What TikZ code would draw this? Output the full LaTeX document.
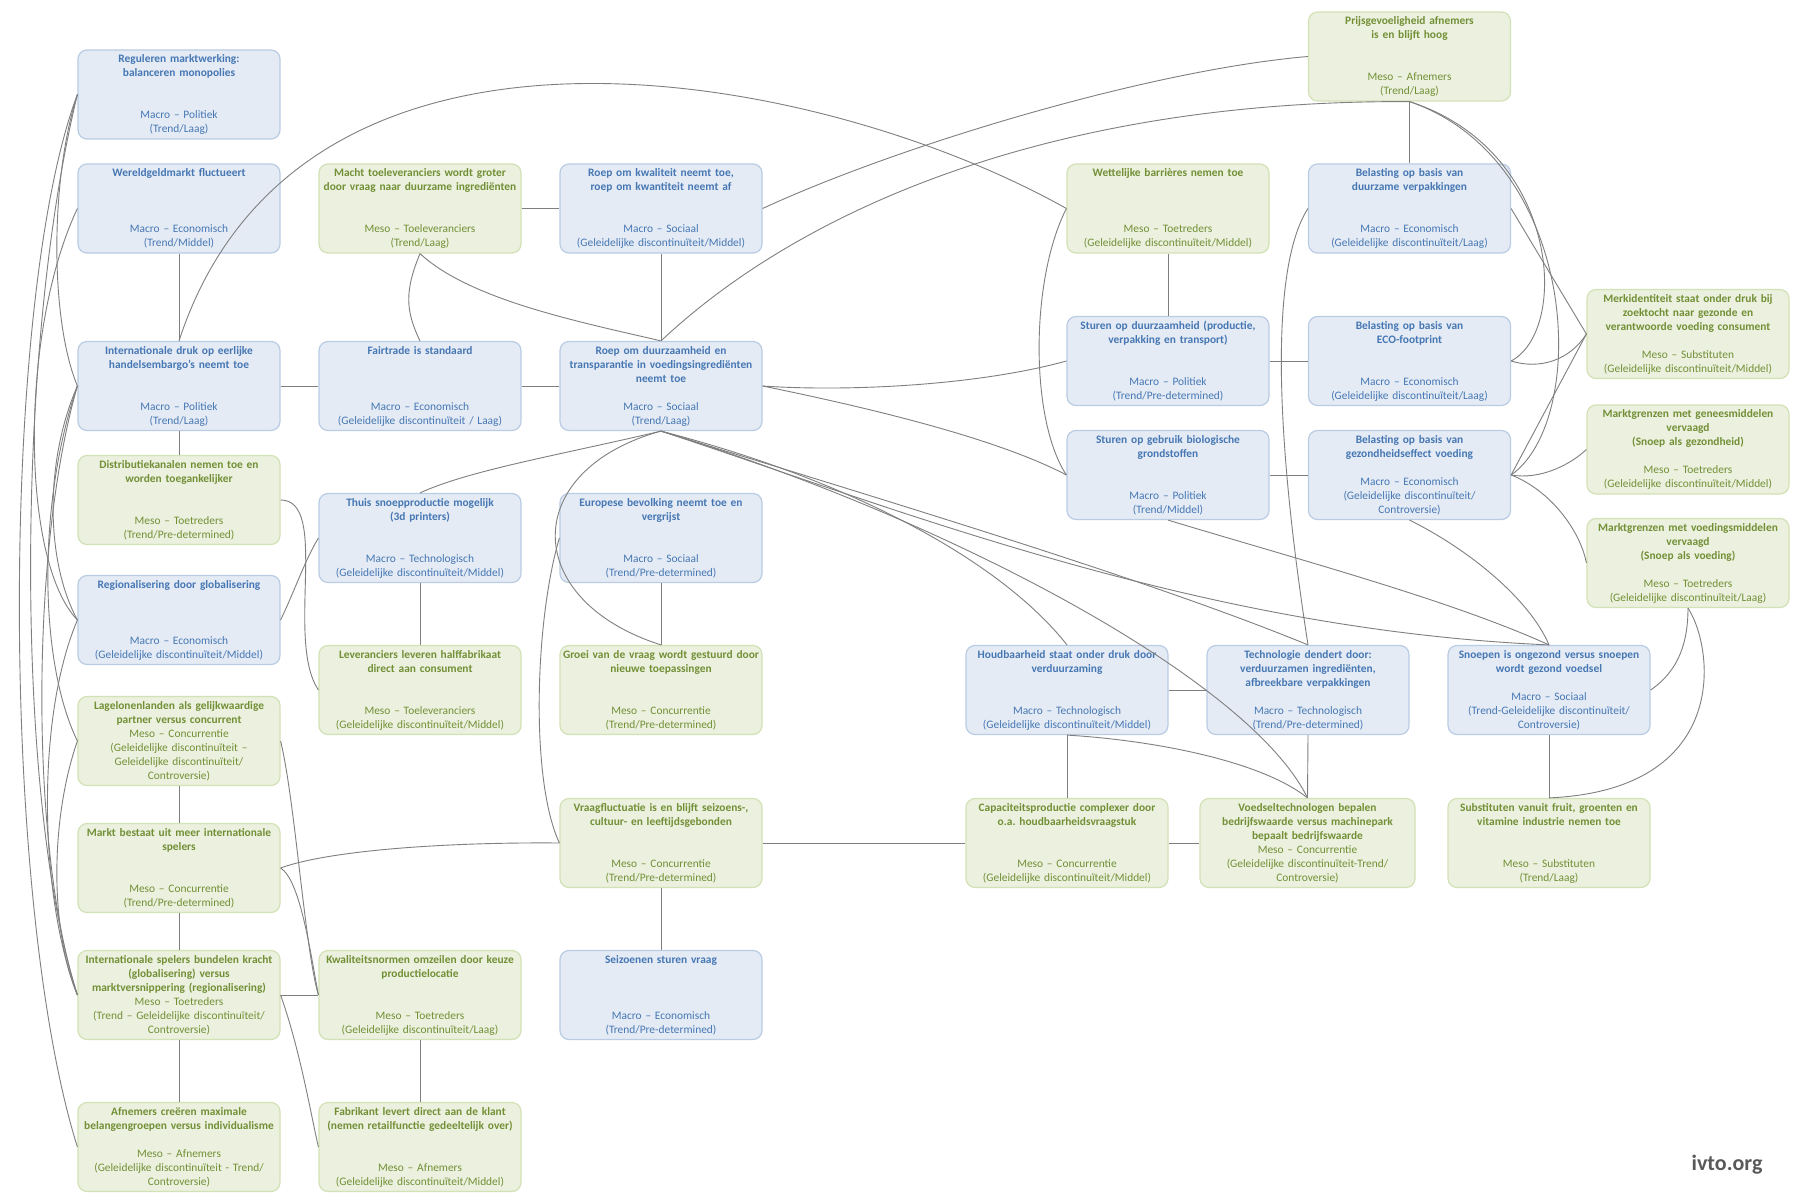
\documentclass[tikz,border=0pt]{standalone}
\usepackage{fontspec}
\setmainfont{Carlito}
\frenchspacing
\definecolor{fblue}{HTML}{E4EBF5}
\definecolor{bblue}{HTML}{B9CCE4}
\definecolor{tblue}{HTML}{4677B3}
\definecolor{fgreen}{HTML}{EBF1DE}
\definecolor{bgreen}{HTML}{D3E1B6}
\definecolor{tgreen}{HTML}{728F36}
\definecolor{lgray}{HTML}{7F7F7F}
\definecolor{ivgray}{HTML}{595959}
\newcommand\boxfont{\fontsize{11.4}{14}\selectfont}
\newcommand\tb[1]{\textbf{#1}}
\tikzset{
  basebox/.style={rounded corners=9pt, minimum width=202pt, minimum height=89pt,
    inner sep=0pt, text width=201pt, align=center, font=\boxfont, line width=1.2pt},
  mbox/.style={basebox, draw=bblue, fill=fblue, text=tblue},
  gbox/.style={basebox, draw=bgreen, fill=fgreen, text=tgreen},
  link/.style={draw=lgray, line width=0.9pt},
}
\begin{document}
\begin{tikzpicture}[x=1pt,y=-1pt]
\useasboundingbox (0,0) rectangle (1800,1201);
\fill[white] (0,0) rectangle (1800,1201);

% column 1
\node[mbox] (reg) at (179,94.5) {\tb{Reguleren marktwerking:}\\\tb{balanceren monopolies}\\~\\~\\Macro – Politiek\\(Trend/Laag)};
\node[mbox] (wer) at (179,208.5) {\tb{Wereldgeldmarkt fluctueert}\\~\\~\\~\\Macro – Economisch\\(Trend/Middel)};
\node[mbox] (idr) at (179,386) {\tb{Internationale druk op eerlijke}\\\tb{handelsembargo’s neemt toe}\\~\\~\\Macro – Politiek\\(Trend/Laag)};
\node[gbox] (dis) at (179,500) {\tb{Distributiekanalen nemen toe en}\\\tb{worden toegankelijker}\\~\\~\\Meso – Toetreders\\(Trend/Pre-determined)};
\node[mbox] (regi) at (179,620) {\tb{Regionalisering door globalisering}\\~\\~\\~\\Macro – Economisch\\(Geleidelijke discontinuïteit/Middel)};
\node[gbox] (lag) at (179,741) {\tb{Lagelonenlanden als gelijkwaardige}\\\tb{partner versus concurrent}\\Meso – Concurrentie\\(Geleidelijke discontinuïteit –\\Geleidelijke discontinuïteit/\\Controversie)};
\node[gbox] (mark) at (179,868) {\tb{Markt bestaat uit meer internationale}\\\tb{spelers}\\~\\~\\Meso – Concurrentie\\(Trend/Pre-determined)};
\node[gbox] (isp) at (179,995) {\tb{Internationale spelers bundelen kracht}\\\tb{(globalisering) versus}\\\tb{marktversnippering (regionalisering)}\\Meso – Toetreders\\(Trend – Geleidelijke discontinuïteit/\\Controversie)};
\node[gbox] (afn) at (179,1147) {\tb{Afnemers creëren maximale}\\\tb{belangengroepen versus individualisme}\\~\\Meso – Afnemers\\(Geleidelijke discontinuïteit - Trend/\\Controversie)};

% column 2
\node[gbox] (mac) at (420,208.5) {\tb{Macht toeleveranciers wordt groter}\\\tb{door vraag naar duurzame ingrediënten}\\~\\~\\Meso – Toeleveranciers\\(Trend/Laag)};
\node[mbox] (fai) at (420,386) {\tb{Fairtrade is standaard}\\~\\~\\~\\Macro – Economisch\\(Geleidelijke discontinuïteit / Laag)};
\node[mbox] (thu) at (420,538) {\tb{Thuis snoepproductie mogelijk}\\\tb{(3d printers)}\\~\\~\\Macro – Technologisch\\(Geleidelijke discontinuïteit/Middel)};
\node[gbox] (lev) at (420,690) {\tb{Leveranciers leveren halffabrikaat}\\\tb{direct aan consument}\\~\\~\\Meso – Toeleveranciers\\(Geleidelijke discontinuïteit/Middel)};
\node[gbox] (kwa) at (420,995) {\tb{Kwaliteitsnormen omzeilen door keuze}\\\tb{productielocatie}\\~\\~\\Meso – Toetreders\\(Geleidelijke discontinuïteit/Laag)};
\node[gbox] (fab) at (420,1147) {\tb{Fabrikant levert direct aan de klant}\\\tb{(nemen retailfunctie gedeeltelijk over)}\\~\\~\\Meso – Afnemers\\(Geleidelijke discontinuïteit/Middel)};

% column 3
\node[mbox] (rkw) at (661,208.5) {\tb{Roep om kwaliteit neemt toe,}\\\tb{roep om kwantiteit neemt af}\\~\\~\\Macro – Sociaal\\(Geleidelijke discontinuïteit/Middel)};
\node[mbox] (rdu) at (661,386) {\tb{Roep om duurzaamheid en}\\\tb{transparantie in voedingsingrediënten}\\\tb{neemt toe}\\~\\Macro – Sociaal\\(Trend/Laag)};
\node[mbox] (eur) at (661,538) {\tb{Europese bevolking neemt toe en}\\\tb{vergrijst}\\~\\~\\Macro – Sociaal\\(Trend/Pre-determined)};
\node[gbox] (gro) at (661,690) {\tb{Groei van de vraag wordt gestuurd door}\\\tb{nieuwe toepassingen}\\~\\~\\Meso – Concurrentie\\(Trend/Pre-determined)};
\node[gbox] (vra) at (661,843) {\tb{Vraagfluctuatie is en blijft seizoens-,}\\\tb{cultuur- en leeftijdsgebonden}\\~\\~\\Meso – Concurrentie\\(Trend/Pre-determined)};
\node[mbox] (sei) at (661,995) {\tb{Seizoenen sturen vraag}\\~\\~\\~\\Macro – Economisch\\(Trend/Pre-determined)};

% middle
\node[mbox] (hou) at (1067,690) {\tb{Houdbaarheid staat onder druk door}\\\tb{verduurzaming}\\~\\~\\Macro – Technologisch\\(Geleidelijke discontinuïteit/Middel)};
\node[gbox] (cap) at (1067,843) {\tb{Capaciteitsproductie complexer door}\\\tb{o.a. houdbaarheidsvraagstuk}\\~\\~\\Meso – Concurrentie\\(Geleidelijke discontinuïteit/Middel)};
\node[gbox] (wet) at (1168,208.5) {\tb{Wettelijke barrières nemen toe}\\~\\~\\~\\Meso – Toetreders\\(Geleidelijke discontinuïteit/Middel)};
\node[mbox] (sdu) at (1168,361) {\tb{Sturen op duurzaamheid (productie,}\\\tb{verpakking en transport)}\\~\\~\\Macro – Politiek\\(Trend/Pre-determined)};
\node[mbox] (sbi) at (1168,475) {\tb{Sturen op gebruik biologische}\\\tb{grondstoffen}\\~\\~\\Macro – Politiek\\(Trend/Middel)};
\node[mbox] (tec) at (1308,690) {\tb{Technologie dendert door:}\\\tb{verduurzamen ingrediënten,}\\\tb{afbreekbare verpakkingen}\\~\\Macro – Technologisch\\(Trend/Pre-determined)};
\node[gbox, minimum width=215pt, text width=214pt] (voe) at (1307.5,843) {\tb{Voedseltechnologen bepalen}\\\tb{bedrijfswaarde versus machinepark}\\\tb{bepaalt bedrijfswaarde}\\Meso – Concurrentie\\(Geleidelijke discontinuïteit-Trend/\\Controversie)};

% right part
\node[gbox] (pri) at (1409.5,56.5) {\tb{Prijsgevoeligheid afnemers}\\\tb{is en blijft hoog}\\~\\~\\Meso – Afnemers\\(Trend/Laag)};
\node[mbox] (bdu) at (1409.5,208.5) {\tb{Belasting op basis van}\\\tb{duurzame verpakkingen}\\~\\~\\Macro – Economisch\\(Geleidelijke discontinuïteit/Laag)};
\node[mbox] (eco) at (1409.5,361) {\tb{Belasting op basis van}\\\tb{ECO-footprint}\\~\\~\\Macro – Economisch\\(Geleidelijke discontinuïteit/Laag)};
\node[mbox] (bge) at (1409.5,475) {\tb{Belasting op basis van}\\\tb{gezondheidseffect voeding}\\~\\Macro – Economisch\\(Geleidelijke discontinuïteit/\\Controversie)};
\node[mbox] (sno) at (1549,690) {\tb{Snoepen is ongezond versus snoepen}\\\tb{wordt gezond voedsel}\\~\\Macro – Sociaal\\(Trend-Geleidelijke discontinuïteit/\\Controversie)};
\node[gbox] (sub) at (1549,843) {\tb{Substituten vanuit fruit, groenten en}\\\tb{vitamine industrie nemen toe}\\~\\~\\Meso – Substituten\\(Trend/Laag)};
\node[gbox] (mer) at (1688,334) {\tb{Merkidentiteit staat onder druk bij}\\\tb{zoektocht naar gezonde en}\\\tb{verantwoorde voeding consument}\\~\\Meso – Substituten\\(Geleidelijke discontinuïteit/Middel)};
\node[gbox] (gen) at (1688,449.5) {\tb{Marktgrenzen met geneesmiddelen}\\\tb{vervaagd}\\\tb{(Snoep als gezondheid)}\\~\\Meso – Toetreders\\(Geleidelijke discontinuïteit/Middel)};
\node[gbox] (voed) at (1688,563) {\tb{Marktgrenzen met voedingsmiddelen}\\\tb{vervaagd}\\\tb{(Snoep als voeding)}\\~\\Meso – Toetreders\\(Geleidelijke discontinuïteit/Laag)};

\node[font=\fontsize{22}{26}\selectfont\bfseries, text=ivgray] (ivto) at (1727,1165) {ivto.org};

% ---- straight connectors
\draw[link] (wer.south) -- (idr.north);
\draw[link] (idr.south) -- (dis.north);
\draw[link] (idr.east) -- (fai.west);
\draw[link] (fai.east) -- (rdu.west);
\draw[link] (mac.east) -- (rkw.west);
\draw[link] (rkw.south) -- (rdu.north);
\draw[link] (thu.south) -- (lev.north);
\draw[link] (eur.south) -- (gro.north);
\draw[link] (vra.south) -- (sei.north);
\draw[link] (vra.east) -- (cap.west);
\draw[link] (cap.east) -- (voe.west);
\draw[link] (hou.south) -- (cap.north);
\draw[link] (hou.east) -- (tec.west);
\draw[link] (tec.south) -- (voe.north);
\draw[link] (wet.south) -- (sdu.north);
\draw[link] (sdu.east) -- (eco.west);
\draw[link] (sbi.east) -- (bge.west);
\draw[link] (pri.south) -- (bdu.north);
\draw[link] (sno.south) -- (sub.north);
\draw[link] (lag.south) -- (mark.north);
\draw[link] (mark.south) -- (isp.north);
\draw[link] (isp.south) -- (afn.north);
\draw[link] (isp.east) -- (kwa.west);
\draw[link] (kwa.south) -- (fab.north);
\draw[link] (bdu.east) -- (mer.west);
\draw[link] (mer.west) -- (bge.east);

% ---- curved connectors, top
\draw[link] (mac.south) .. controls (405,290) and (405,310) .. (fai.north);
\draw[link] (mac.south) .. controls (470,300) and (580,322) .. (rdu.north);
\draw[link] (idr.north) .. controls (300,-30) and (820,70) .. (wet.west);
\draw[link] (rkw.east) .. controls (900,145) and (1150,70) .. (pri.west);
\draw[link] (rdu.north) .. controls (800,210) and (1050,100) .. (pri.south);
\draw[link] (wet.west) .. controls (1030,280) and (1030,420) .. (sbi.west);
\draw[link] (rdu.east) .. controls (850,392) and (980,385) .. (sdu.west);
\draw[link] (rdu.east) .. controls (880,410) and (1000,440) .. (sbi.west);
\draw[link] (bdu.west) .. controls (1275,260) and (1270,400) .. (tec.north);

% ---- right side
\draw[link] (pri.south) .. controls (1560,150) and (1570,330) .. (eco.east);
\draw[link] (pri.south) .. controls (1580,160) and (1590,420) .. (bge.east);
\draw[link] (eco.east) .. controls (1540,370) and (1570,360) .. (mer.west);
\draw[link] (bge.east) .. controls (1540,480) and (1570,465) .. (gen.west);
\draw[link] (bge.east) .. controls (1550,490) and (1580,530) .. (voed.west);
\draw[link] (sno.east) .. controls (1680,670) and (1688,640) .. (voed.south);
\draw[link] (voed.south) .. controls (1715,650) and (1730,790) .. (sub.north);
\draw[link] (sbi.south) .. controls (1300,560) and (1450,600) .. (sno.north);
\draw[link] (bge.south) .. controls (1470,550) and (1530,600) .. (sno.north);

% ---- fan from Roep om duurzaamheid
\draw[link] (rdu.south) .. controls (560,455) and (470,470) .. (thu.north);
\draw[link] (rdu.south) .. controls (520,470) and (520,600) .. (gro.north);
\draw[link] (rdu.south) .. controls (850,480) and (1000,560) .. (hou.north);
\draw[link] (rdu.south) .. controls (900,505) and (1150,580) .. (tec.north);
\draw[link] (rdu.south) .. controls (900,510) and (1200,630) .. (sno.north);
\draw[link] (rdu.south) .. controls (950,520) and (1250,680) .. (voe.north);
\draw[link] (hou.south) .. controls (1150,740) and (1260,760) .. (voe.north);
\draw[link] (eur.west) .. controls (535,620) and (530,780) .. (vra.west);

% ---- columns 1-2
\draw[link] (dis.east) .. controls (330,500) and (285,640) .. (lev.west);
\draw[link] (regi.east) .. controls (295,590) and (305,560) .. (thu.west);
\draw[link] (lag.east) .. controls (295,800) and (305,950) .. (kwa.west);
\draw[link] (mark.east) .. controls (300,880) and (310,950) .. (kwa.west);
\draw[link] (isp.east) .. controls (300,1050) and (310,1110) .. (fab.west);
\draw[link] (vra.west) .. controls (450,842) and (330,850) .. (mark.east);

% ---- left side
\draw[link] (reg.west) .. controls (0,300) and (0,900) .. (afn.west);
\draw[link] (reg.west) .. controls (15,350) and (15,800) .. (isp.west);
\draw[link] (reg.west) .. controls (50,180) and (50,320) .. (idr.west);
\draw[link] (wer.west) .. controls (20,330) and (20,560) .. (regi.west);
\draw[link] (idr.west) .. controls (30,550) and (30,850) .. (isp.west);
\draw[link] (idr.west) .. controls (45,460) and (45,560) .. (regi.west);
\draw[link] (idr.west) .. controls (38,500) and (38,660) .. (lag.west);
\draw[link] (regi.west) .. controls (35,720) and (40,900) .. (isp.west);
\draw[link] (lag.west) .. controls (50,820) and (50,930) .. (isp.west);
\end{tikzpicture}
\end{document}
